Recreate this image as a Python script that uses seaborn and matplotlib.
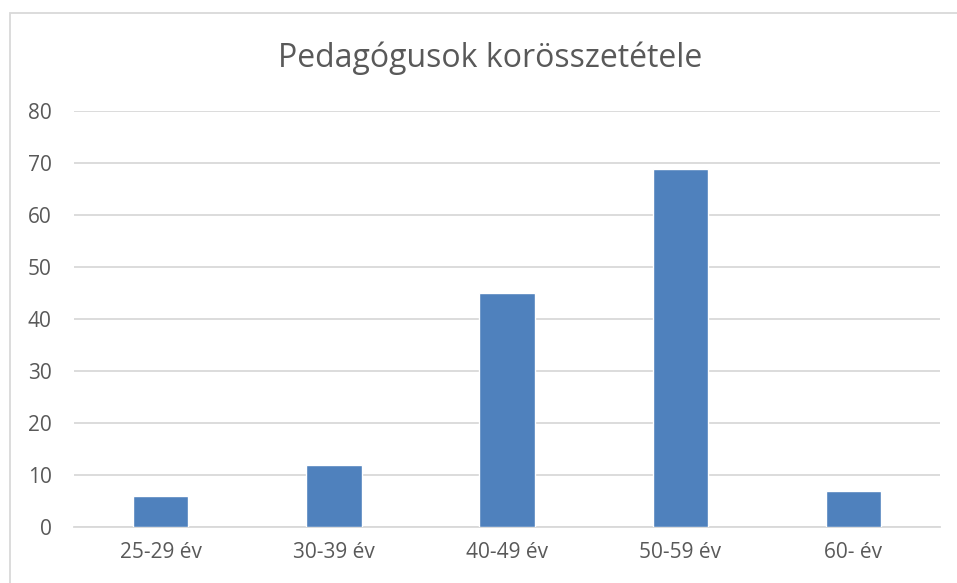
import matplotlib
matplotlib.use("Agg")
import matplotlib.pyplot as plt
import seaborn as sns
import pandas as pd
from matplotlib.patches import Rectangle

# chart data
age_groups = ["25-29 év", "30-39 év", "40-49 év", "50-59 év", "60- év"]
teacher_counts = [6, 12, 45, 69, 7]
y_ticks = [0, 10, 20, 30, 40, 50, 60, 70, 80]

df = pd.DataFrame({"korcsoport": age_groups, "letszam": teacher_counts})

sns.set_theme(style="white")
plt.rcParams["font.family"] = ["Open Sans", "DejaVu Sans"]

text_color = "#595959"
grid_color = "#D9D9D9"
bar_color = "#4F81BD"

fig = plt.figure(figsize=(9.57, 5.83), dpi=100)
ax = fig.add_axes([0.0773, 0.096, 0.905, 0.713])

sns.barplot(data=df, x="korcsoport", y="letszam", color=bar_color,
            width=0.32, saturation=1, ax=ax, zorder=3)

ax.set_ylim(0, 80)
ax.set_xlim(-0.5, len(age_groups) - 0.5)
ax.set_yticks(y_ticks)
ax.yaxis.grid(True, color=grid_color, linewidth=1.3, zorder=0)
ax.set_axisbelow(True)
for s in ["top", "right", "left"]:
    ax.spines[s].set_visible(False)
ax.spines["bottom"].set_color(grid_color)
ax.spines["bottom"].set_linewidth(1.3)
ax.tick_params(axis="both", length=0, colors=text_color)
ax.tick_params(axis="y", labelsize=15, pad=16)
ax.tick_params(axis="x", labelsize=15, pad=11)
ax.set_xlabel("")
ax.set_ylabel("")

fig.text(0.512, 0.900, "Pedagógusok korösszetétele", ha="center", va="center",
         fontsize=23, color=text_color)

# outer chart border
fig.patches.append(Rectangle((10 / 957, -0.02), 1.05, 1 - 13 / 583 + 0.02,
                             transform=fig.transFigure, fill=False,
                             edgecolor=grid_color, linewidth=1.3))

fig.savefig("out.png", dpi=100)
